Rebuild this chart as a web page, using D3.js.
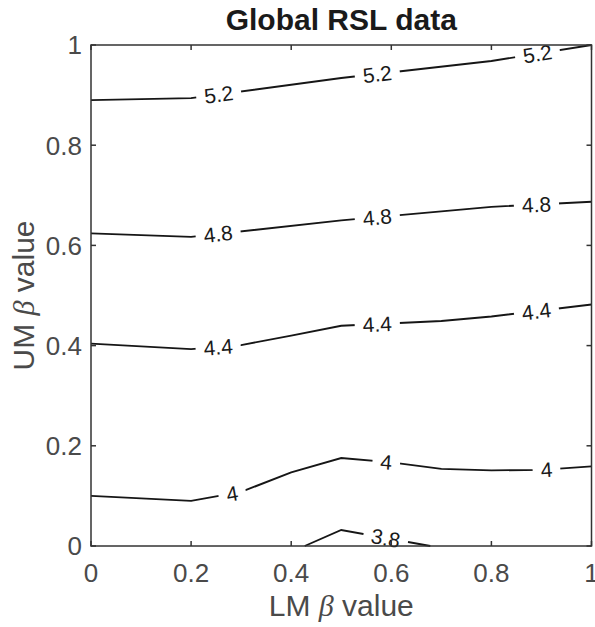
<!DOCTYPE html>
<html><head><meta charset="utf-8">
<script src="https://cdn.jsdelivr.net/npm/d3@7"></script>
<style>body{margin:0;background:#fff}</style>
</head><body><svg id="c" width="595" height="627"></svg>
<script>
// ---- data ----
const levelLabels = ["3.8", "4", "4.4", "4.8", "5.2"];
const line38 = [[0.427,0],[0.5,0.032],[0.678,0]];
const line40 = [[0,0.100],[0.2,0.090],[0.3,0.108],[0.4,0.147],[0.5,0.1755],[0.6,0.167],[0.7,0.154],[0.8,0.151],[0.9,0.152],[1,0.159]];
const line44 = [[0,0.404],[0.2,0.393],[0.3,0.401],[0.4,0.420],[0.5,0.4395],[0.7,0.449],[0.8,0.458],[1,0.482]];
const line48 = [[0,0.624],[0.2,0.617],[0.5,0.650],[0.7,0.668],[0.8,0.677],[1,0.687]];
const line52 = [[0,0.890],[0.2,0.894],[0.5,0.934],[0.8,0.968],[1,1.0]];
const labelX38 = [0.589];
const labelX40 = [0.282, 0.59, 0.91];
const labelX44 = [0.254, 0.572, 0.89];
const labelX48 = [0.254, 0.572, 0.89];
const labelX52 = [0.255, 0.572, 0.892];
const xTicks = [0, 0.2, 0.4, 0.6, 0.8, 1];
const yTicks = [0, 0.2, 0.4, 0.6, 0.8, 1];
const tickLabels = ["0", "0.2", "0.4", "0.6", "0.8", "1"];
const titleText = "Global RSL data";

const contours = [
  {label: levelLabels[0], pts: line38, lx: labelX38},
  {label: levelLabels[1], pts: line40, lx: labelX40},
  {label: levelLabels[2], pts: line44, lx: labelX44},
  {label: levelLabels[3], pts: line48, lx: labelX48},
  {label: levelLabels[4], pts: line52, lx: labelX52}
];

// ---- layout ----
const L = 91, R = 591.5, T = 45, B = 546;
const svg = d3.select("#c");
const x = d3.scaleLinear().domain([0,1]).range([L,R]);
const y = d3.scaleLinear().domain([0,1]).range([B,T]);
const axisCol = "#333333";
const sans = "'Liberation Sans', Arial, Helvetica, sans-serif";
const serif = "'Liberation Serif', 'DejaVu Serif', serif";

const line = d3.line().x(d => x(d[0])).y(d => y(d[1]));

const gLines = svg.append("g");
const gLabels = svg.append("g");

contours.forEach(c => {
  gLines.append("path").attr("d", line(c.pts))
    .attr("fill","none").attr("stroke","#161616").attr("stroke-width",1.9);
  c.lx.forEach(lx => {
    let i = 0;
    while (i < c.pts.length - 2 && c.pts[i+1][0] < lx) i++;
    const p0 = c.pts[i], p1 = c.pts[i+1];
    const t = (lx - p0[0]) / (p1[0] - p0[0]);
    const ly = p0[1] + t * (p1[1] - p0[1]);
    const px = x(lx), py = y(ly);
    const ang = Math.atan2(y(p1[1]) - y(p0[1]), x(p1[0]) - x(p0[0])) * 180 / Math.PI;
    const g = gLabels.append("g").attr("transform", `translate(${px},${py}) rotate(${ang})`);
    const rect = g.append("rect").attr("fill","#fff");
    const txt = g.append("text").text(c.label)
      .attr("text-anchor","middle").attr("dy","0.36em")
      .attr("font-family", sans).attr("font-size", 21).attr("fill","#1a1a1a");
    const w = txt.node().getComputedTextLength();
    rect.attr("x", -w/2 - 8).attr("y", -8).attr("width", w + 16).attr("height", 16);
  });
});

// ---- axes box ----
const gAx = svg.append("g");
gAx.append("rect").attr("x",L).attr("y",T).attr("width",R-L).attr("height",B-T)
  .attr("fill","none").attr("stroke",axisCol).attr("stroke-width",1.5);
const tl = 5;
xTicks.forEach(v => {
  gAx.append("line").attr("x1",x(v)).attr("x2",x(v)).attr("y1",B).attr("y2",B-tl).attr("stroke",axisCol).attr("stroke-width",1.5);
  gAx.append("line").attr("x1",x(v)).attr("x2",x(v)).attr("y1",T).attr("y2",T+tl).attr("stroke",axisCol).attr("stroke-width",1.5);
});
yTicks.forEach(v => {
  gAx.append("line").attr("x1",L).attr("x2",L+tl).attr("y1",y(v)).attr("y2",y(v)).attr("stroke",axisCol).attr("stroke-width",1.5);
  gAx.append("line").attr("x1",R).attr("x2",R-tl).attr("y1",y(v)).attr("y2",y(v)).attr("stroke",axisCol).attr("stroke-width",1.5);
});
xTicks.forEach((v,i) => {
  gAx.append("text").attr("x",x(v)).attr("y",582).attr("text-anchor","middle")
    .attr("font-family",sans).attr("font-size",26).attr("fill","#4a4a4a").text(tickLabels[i]);
});
yTicks.forEach((v,i) => {
  gAx.append("text").attr("x",82).attr("y",y(v)).attr("dy","0.36em").attr("text-anchor","end")
    .attr("font-family",sans).attr("font-size",26).attr("fill","#4a4a4a").text(tickLabels[i]);
});

// axis labels
const xl = svg.append("text").attr("x",(L+R)/2).attr("y",616).attr("text-anchor","middle")
  .attr("font-family",sans).attr("font-size",30).attr("fill","#4a4a4a");
xl.append("tspan").text("LM ");
xl.append("tspan").attr("font-family",serif).attr("font-style","italic").text("β");
xl.append("tspan").text(" value");

const yl = svg.append("text").attr("transform",`translate(34,${(T+B)/2}) rotate(-90)`).attr("text-anchor","middle")
  .attr("font-family",sans).attr("font-size",30).attr("fill","#4a4a4a");
yl.append("tspan").text("UM ");
yl.append("tspan").attr("font-family",serif).attr("font-style","italic").text("β");
yl.append("tspan").text(" value");

// title
svg.append("text").attr("x",(L+R)/2).attr("y",30).attr("text-anchor","middle")
  .attr("font-family",sans).attr("font-size",30).attr("font-weight","bold").attr("fill","#1a1a1a").text(titleText);
</script>
</body></html>
